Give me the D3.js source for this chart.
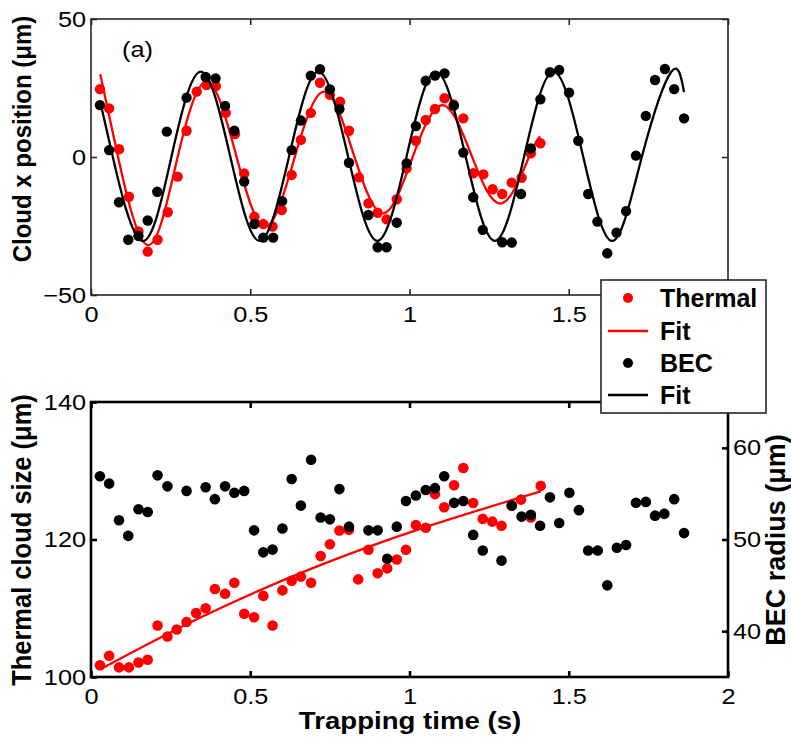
<!DOCTYPE html>
<html><head><meta charset="utf-8">
<script src="https://cdn.jsdelivr.net/npm/d3@7"></script>
<style>body{margin:0;background:#fff}</style>
</head><body>
<script>
// ---------- DATA ----------
// Panel (a): cloud x position (µm) vs trapping time (s)
const thermalPosT = [0.028,0.057,0.088,0.119,0.149,0.178,0.209,0.241,0.272,0.300,0.332,0.363,0.392,0.423,0.452,0.481,0.513,0.541,0.570,0.599,0.630,0.659,0.690,0.719,0.750,0.782,0.810,0.841,0.871,0.900,0.928,0.960,0.991,1.020,1.051,1.080,1.110,1.139,1.169,1.200,1.232,1.261,1.291,1.321,1.352,1.381,1.411];
const thermalPosY = [24.6,17.6,2.8,-14.4,-27,-34.3,-30,-20,-7.1,9.5,23.7,26.1,25.7,16,8.3,-6,-21.6,-24.3,-25.2,-19.2,-6.5,6.2,16,26.9,22.5,20,9.5,-7.4,-16.8,-20.2,-22.6,-15.3,-4.1,5.9,13.4,17.4,21.3,19,14,-5.9,-6.3,-11.7,-13.4,-9.3,-7.5,1.3,5];
const becPosT = [0.028,0.057,0.088,0.117,0.149,0.178,0.208,0.238,0.300,0.360,0.391,0.421,0.450,0.481,0.513,0.541,0.572,0.600,0.630,0.659,0.690,0.719,0.750,0.780,0.810,0.871,0.900,0.928,0.960,0.991,1.020,1.051,1.080,1.110,1.139,1.169,1.200,1.230,1.291,1.321,1.350,1.381,1.411,1.441,1.470,1.501,1.530,1.561,1.590,1.621,1.650,1.680,1.711,1.742,1.771,1.802,1.831,1.862];
const becPosY = [18.8,2.5,-16.4,-30,-28.6,-23,-12.6,9.2,21.5,29,28.5,18.5,9.5,-8.9,-24.3,-29.2,-29.2,-16,2.5,13.2,29.5,31.8,24.5,17.4,-2.1,-21,-32.7,-32.7,-23.8,-2.3,11.2,27.6,29.5,30.3,18.6,1.6,-14.6,-26.4,-30.9,-31,-13.4,3.1,20.9,30.7,31.5,23.3,5.9,-13.4,-23.4,-34.9,-27.4,-19.6,0.5,14.9,27.9,31.9,24.6,14];
// Fit curves read at their extrema and mid-crossings
const thermalFitPosT = [0.029,0.085,0.178,0.270,0.363,0.456,0.548,0.641,0.733,0.826,0.918,1.011,1.104,1.196,1.289,1.375,1.410];
const thermalFitPosY = [30,0,-31.9,-1,27.3,0.5,-25.2,0.5,23.7,0.5,-20.4,0.3,18.8,0.2,-16.8,0,7.5];
const becFitPosT = [0.028,0.068,0.160,0.253,0.345,0.437,0.529,0.622,0.714,0.807,0.899,0.991,1.083,1.176,1.268,1.360,1.452,1.545,1.637,1.730,1.822,1.862];
const becFitPosY = [20.5,0.3,-30.4,0.3,30.9,0.3,-30.4,0.3,30.9,0.3,-30.4,0.3,30.9,0.3,-30.4,0.3,30.9,0.3,-30.4,0.3,30.9,23.5];

// Panel (b): thermal cloud size (µm, left) and BEC radius (µm, right)
const thermalSizeT = [0.028,0.057,0.088,0.119,0.149,0.178,0.209,0.240,0.269,0.300,0.330,0.360,0.389,0.421,0.450,0.481,0.512,0.541,0.570,0.601,0.630,0.659,0.691,0.721,0.750,0.780,0.810,0.839,0.871,0.900,0.930,0.960,0.989,1.020,1.051,1.080,1.109,1.140,1.169,1.200,1.230,1.260,1.289,1.321,1.350,1.381,1.412];
const thermalSizeY = [101.7,103.1,101.4,101.4,102.1,102.5,107.5,105.9,106.9,108.0,109.3,110.0,112.8,112.1,113.7,109.2,108.7,111.8,107.5,112.6,114.0,114.6,113.7,117.6,119.3,121.3,121.4,114.2,118.5,115.1,115.8,117.1,118.5,122.1,121.7,126.6,124.7,127.9,130.4,125.3,123.0,122.6,122.0,124.9,125.8,123.2,127.8];
const thermalSizeFitT = [0.028,0.35,0.70,1.05,1.412];
const thermalSizeFitY = [101.1,108.8,115.9,121.8,127.0];
const becRadiusT = [0.028,0.057,0.088,0.117,0.149,0.178,0.209,0.240,0.300,0.360,0.389,0.421,0.450,0.481,0.512,0.541,0.570,0.601,0.630,0.659,0.691,0.721,0.750,0.780,0.810,0.871,0.900,0.930,0.960,0.989,1.020,1.051,1.080,1.109,1.140,1.169,1.200,1.230,1.289,1.321,1.352,1.381,1.410,1.441,1.470,1.502,1.532,1.561,1.591,1.621,1.651,1.680,1.711,1.742,1.771,1.800,1.831,1.862];
const becRadiusY = [56.9,56.1,52.1,50.4,53.3,53.0,57.0,55.8,55.3,55.7,54.4,55.8,55.1,55.3,51.0,48.6,48.9,51.2,56.6,53.7,58.7,52.4,52.2,55.5,51.4,51.0,51.0,47.9,51.4,54.2,54.8,55.4,55.6,56.9,54.0,54.2,50.5,48.8,47.7,53.7,52.5,52.7,51.5,54.6,51.8,55.1,53.2,48.8,48.8,45.0,49.1,49.4,54.0,54.1,52.6,52.8,54.4,50.7];

// Axes ticks and labels
const xTicks = [0,0.5,1,1.5,2];
const xTicksTopPanelLabels = ["0","0.5","1","1.5",""]; // "2" hidden under the legend
const xTickLabels = ["0","0.5","1","1.5","2"];
const posTicks = [-50,0,50];
const sizeTicks = [100,120,140];
const radiusTicks = [40,50,60];
const legendLabels = ["Thermal","Fit","BEC","Fit"];
const xTitle = "Trapping time (s)";
const posTitle = "Cloud x position (μm)";
const sizeTitle = "Thermal cloud size (μm)";
const radiusTitle = "BEC radius (μm)";
const panelTag = "(a)";

// ---------- DRAW ----------
const FONT = "'Liberation Sans', Arial, Helvetica, sans-serif";
const SX = 1.15; // horizontal text stretch seen in the reference
const svg = d3.select("body").append("svg").attr("width",791).attr("height",738);
const zip = (a,b)=>a.map((v,i)=>[v,b[i]]);
const L=91, R=728;
const x = d3.scaleLinear().domain([0,2]).range([L,R]);
const yPos = d3.scaleLinear().domain([-50,50]).range([295,19]);
const ySize = d3.scaleLinear().domain([100,140]).range([677,402]);
const yRad = d3.scaleLinear().domain([35,65]).range([677,402]);
const RED="#ff0000", BLK="#000000";
const fmt = d3.format("~g");

function styleAxis(g,color,w){
  g.selectAll("path.domain").remove();
  g.selectAll("line").attr("stroke",color).attr("stroke-width",w);
}
function stretchLabels(g, anchor, dx){
  g.selectAll("text").attr("font-family",FONT).attr("font-size",22).attr("fill","#000")
    .attr("text-anchor",anchor)
    .attr("transform",`scale(${SX},1)`)
    .attr("x",dx/SX);
}
function panel(top,bottom,yScale,yTickVals,color,w,mirrorRight,xLabels){
  const gb = svg.append("g").attr("transform",`translate(0,${bottom})`)
    .call(d3.axisBottom(x).tickValues(xTicks).tickFormat((d,i)=>xLabels[i]).tickSizeInner(-6).tickSizeOuter(0).tickPadding(11));
  styleAxis(gb,color,w); stretchLabels(gb,"middle",0);
  gb.selectAll("text").attr("dy","0.71em");
  const gt = svg.append("g").attr("transform",`translate(0,${top})`)
    .call(d3.axisTop(x).tickValues(xTicks).tickSizeInner(-6).tickSizeOuter(0).tickFormat(""));
  styleAxis(gt,color,w);
  const gl = svg.append("g").attr("transform",`translate(${L},0)`)
    .call(d3.axisLeft(yScale).tickValues(yTickVals).tickFormat(fmt).tickSizeInner(-6).tickSizeOuter(0).tickPadding(5));
  styleAxis(gl,color,w); stretchLabels(gl,"end",-5);
  if(mirrorRight){
    const gr = svg.append("g").attr("transform",`translate(${R},0)`)
      .call(d3.axisRight(yScale).tickValues(yTickVals).tickSizeInner(-6).tickSizeOuter(0).tickFormat(""));
    styleAxis(gr,color,w);
  }
  svg.append("rect").attr("x",L).attr("y",top).attr("width",R-L).attr("height",bottom-top)
    .attr("fill","none").attr("stroke",color).attr("stroke-width",w);
}

// ----- Panel (a)
panel(19,295,yPos,posTicks,"#262626",1.6,true,xTicksTopPanelLabels);
const lineNat = (xs,ys)=>d3.line().curve(d3.curveNatural).x(d=>x(d[0])).y(d=>ys(d[1]));
const ga = svg.append("g");
ga.selectAll("circle.tp").data(zip(thermalPosT,thermalPosY)).join("circle")
  .attr("cx",d=>x(d[0])).attr("cy",d=>yPos(d[1])).attr("r",5.2).attr("fill",RED);
ga.append("path").attr("d",lineNat(x,yPos)(zip(thermalFitPosT,thermalFitPosY)))
  .attr("fill","none").attr("stroke",RED).attr("stroke-width",2.3);
ga.selectAll("circle.bp").data(zip(becPosT,becPosY)).join("circle")
  .attr("cx",d=>x(d[0])).attr("cy",d=>yPos(d[1])).attr("r",5.2).attr("fill",BLK);
ga.append("path").attr("d",lineNat(x,yPos)(zip(becFitPosT,becFitPosY)))
  .attr("fill","none").attr("stroke",BLK).attr("stroke-width",2.3);
svg.append("text").attr("font-family",FONT).attr("font-size",22).attr("transform",`translate(122,57) scale(${SX},1)`).text(panelTag);

// ----- Panel (b)
panel(402,677,ySize,sizeTicks,"#000",2.6,false,xTickLabels);
const grr = svg.append("g").attr("transform",`translate(${R},0)`)
  .call(d3.axisRight(yRad).tickValues(radiusTicks).tickFormat(fmt).tickSizeInner(-6).tickSizeOuter(0).tickPadding(5));
styleAxis(grr,"#000",2.6); stretchLabels(grr,"start",5);
const gbp = svg.append("g");
gbp.selectAll("circle.ts").data(zip(thermalSizeT,thermalSizeY)).join("circle")
  .attr("cx",d=>x(d[0])).attr("cy",d=>ySize(d[1])).attr("r",5.3).attr("fill",RED);
gbp.append("path").attr("d",lineNat(x,ySize)(zip(thermalSizeFitT,thermalSizeFitY)))
  .attr("fill","none").attr("stroke",RED).attr("stroke-width",2.3);
gbp.selectAll("circle.br").data(zip(becRadiusT,becRadiusY)).join("circle")
  .attr("cx",d=>x(d[0])).attr("cy",d=>yRad(d[1])).attr("r",5.3).attr("fill",BLK);

// ----- Titles
function title(txt,tx,ty,rot,size,sx){
  svg.append("text").attr("font-family",FONT).attr("font-size",size).attr("font-weight","bold")
    .attr("text-anchor","middle")
    .attr("transform", rot ? `translate(${tx},${ty}) rotate(-90) scale(1,${sx})` : `translate(${tx},${ty}) scale(${sx},1)`)
    .text(txt);
}
title(xTitle,410,729,false,24,SX);
title(posTitle,31,139,true,24,1.1);
title(sizeTitle,31,540,true,25.5,1.05);
title(radiusTitle,785,540,true,27,1.0);

// ----- Legend
const lg = svg.append("g");
lg.append("rect").attr("x",601).attr("y",280).attr("width",165).attr("height",133)
  .attr("fill","#fff").attr("stroke","#262626").attr("stroke-width",1.6);
const legY = [298,331,363,395];
const legKind = ["dot","line","dot","line"];
const legCol = [RED,RED,BLK,BLK];
legendLabels.forEach((lab,i)=>{
  if(legKind[i]==="dot") lg.append("circle").attr("cx",628).attr("cy",legY[i]).attr("r",5).attr("fill",legCol[i]);
  else lg.append("line").attr("x1",608).attr("x2",648).attr("y1",legY[i]).attr("y2",legY[i]).attr("stroke",legCol[i]).attr("stroke-width",2.3);
  lg.append("text").attr("font-family",FONT).attr("font-size",25).attr("font-weight","bold")
    .attr("transform",`translate(660,${legY[i]+9})`).text(lab);
});
</script></body></html>
